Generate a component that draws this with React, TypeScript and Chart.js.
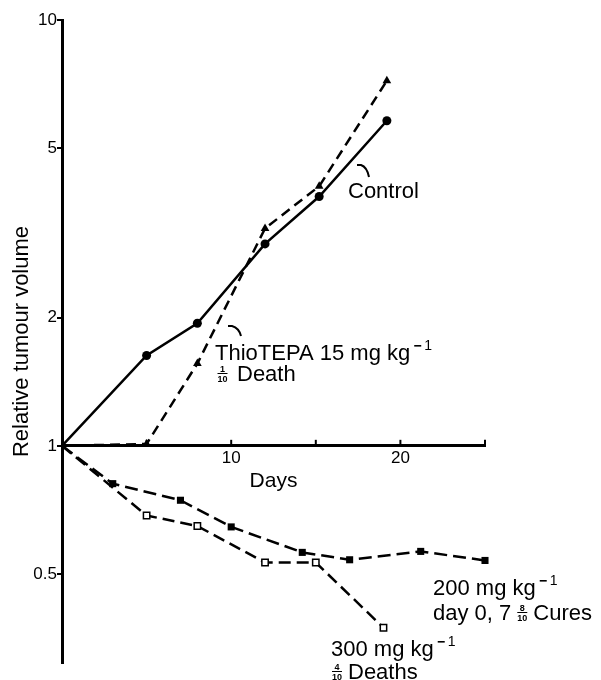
import React, { useEffect, useRef } from 'react';
import { Chart, registerables } from 'chart.js';

Chart.register(...registerables);

// ---- data ----
const controlDays = [0, 5, 8, 12, 15.2, 19.2];
const controlValues = [1, 1.63, 1.94, 2.98, 3.85, 5.8];

const thioDays = [0, 5, 8, 12, 15.2, 19.2];
const thioValues = [1, 1.01, 1.56, 3.24, 4.07, 7.2];

const dose200Days = [0, 3, 7, 10, 14.2, 17, 21.2, 25];
const dose200Values = [1, 0.815, 0.745, 0.645, 0.562, 0.54, 0.565, 0.538];

const dose300Days = [0, 5, 8, 12, 15, 19];
const dose300Values = [1, 0.686, 0.648, 0.532, 0.532, 0.374];

const yTickValues = [0.5, 1, 2, 5, 10];
const xTickLabelValues = [10, 20];
const xTickMarkValues = [5, 10, 15, 20, 25];

const FONT = '"Liberation Sans", Arial, Helvetica, sans-serif';

const toPoints = (xs: number[], ys: number[]) => xs.map((x, i) => ({ x, y: ys[i] }));
const radii = (n: number, r: number) => Array.from({ length: n }, (_, i) => (i === 0 ? 0 : r));

function text(ctx: CanvasRenderingContext2D, s: string, x: number, y: number, size = 22) {
  ctx.font = `${size}px ${FONT}`;
  ctx.textAlign = 'left';
  ctx.textBaseline = 'alphabetic';
  ctx.fillText(s, x, y);
  return ctx.measureText(s).width;
}

function sup(ctx: CanvasRenderingContext2D, x: number, baseline: number) {
  ctx.fillRect(x, baseline - 15, 7, 1.6);
  text(ctx, '1', x + 10, baseline - 10, 14);
}

function frac(ctx: CanvasRenderingContext2D, num: string, den: string, cx: number, baseline: number) {
  ctx.font = `bold 9px ${FONT}`;
  ctx.textAlign = 'center';
  ctx.textBaseline = 'alphabetic';
  ctx.fillText(num, cx, baseline - 9);
  ctx.fillRect(cx - 5, baseline - 8, 10, 1);
  ctx.fillText(den, cx, baseline + 1);
}

function hook(ctx: CanvasRenderingContext2D, x0: number, y0: number, x1: number, y1: number) {
  ctx.beginPath();
  ctx.moveTo(x0 - 3, y0);
  ctx.lineTo(x0 + 1, y0);
  ctx.quadraticCurveTo(x1 - 2, y0 + 2, x1, y1);
  ctx.stroke();
}

const annotationPlugin = {
  id: 'annotations',
  afterDraw(chart: any) {
    const ctx: CanvasRenderingContext2D = chart.ctx;
    ctx.save();
    ctx.fillStyle = '#000';
    ctx.strokeStyle = '#000';
    ctx.lineWidth = 2;

    // x-axis tick marks (pointing up from the axis at y = 1)
    const xs = chart.scales.x;
    const ys = chart.scales.y;
    const y0 = ys.getPixelForValue(1);
    xTickMarkValues.forEach((v) => {
      const px = xs.getPixelForValue(v);
      ctx.beginPath();
      ctx.moveTo(px, y0);
      ctx.lineTo(px, y0 - 6);
      ctx.stroke();
    });

    // Control
    text(ctx, 'Control', 348, 198);
    hook(ctx, 360, 165, 369, 177);

    // ThioTEPA
    let w = text(ctx, 'ThioTEPA 15 mg kg', 215, 360);
    sup(ctx, 215 + w + 4, 360);
    frac(ctx, '1', '10', 222.5, 381);
    text(ctx, 'Death', 237, 381);
    hook(ctx, 231, 326, 241, 336);

    // 200 mg
    w = text(ctx, '200 mg kg', 433, 595);
    sup(ctx, 433 + w + 4, 595);
    w = text(ctx, 'day 0, 7', 433, 620);
    frac(ctx, '8', '10', 433 + w + 11, 620);
    text(ctx, 'Cures', 433 + w + 22, 620);

    // 300 mg
    w = text(ctx, '300 mg kg', 331, 656);
    sup(ctx, 331 + w + 4, 656);
    frac(ctx, '4', '10', 337, 679);
    text(ctx, 'Deaths', 348, 679);

    ctx.restore();
  },
};

export default function App() {
  const ref = useRef<HTMLCanvasElement | null>(null);

  useEffect(() => {
    if (!ref.current) return;
    const chart = new Chart(ref.current, {
      type: 'line',
      data: {
        datasets: [
          {
            label: 'Control',
            data: toPoints(controlDays, controlValues),
            borderColor: '#000',
            borderWidth: 2.5,
            pointStyle: 'circle',
            pointRadius: radii(controlDays.length, 4.5),
            pointBackgroundColor: '#000',
            pointBorderColor: '#000',
            pointBorderWidth: 0,
            fill: false,
            tension: 0,
            clip: false,
          },
          {
            label: 'ThioTEPA 15 mg/kg',
            data: toPoints(thioDays, thioValues),
            borderColor: '#000',
            borderWidth: 2.5,
            borderDash: [10, 6],
            pointStyle: 'triangle',
            pointRadius: radii(thioDays.length, 5),
            pointBackgroundColor: '#000',
            pointBorderColor: '#000',
            pointBorderWidth: 0,
            fill: false,
            tension: 0,
            clip: false,
          },
          {
            label: '200 mg/kg',
            data: toPoints(dose200Days, dose200Values),
            borderColor: '#000',
            borderWidth: 2.5,
            borderDash: [13, 6],
            pointStyle: 'rect',
            pointRadius: radii(dose200Days.length, 5),
            pointBackgroundColor: '#000',
            pointBorderColor: '#000',
            pointBorderWidth: 0,
            fill: false,
            tension: 0,
            clip: false,
          },
          {
            label: '300 mg/kg',
            data: toPoints(dose300Days, dose300Values),
            borderColor: '#000',
            borderWidth: 2.5,
            borderDash: [12, 6],
            pointStyle: 'rect',
            pointRadius: radii(dose300Days.length, 4.5),
            pointBackgroundColor: '#fff',
            pointBorderColor: '#000',
            pointBorderWidth: 1.5,
            fill: false,
            tension: 0,
            clip: false,
          },
        ],
      },
      options: {
        animation: false,
        responsive: false,
        devicePixelRatio: 1,
        layout: { padding: { top: 20, right: 116, bottom: 47, left: 0 } },
        plugins: { legend: { display: false }, tooltip: { enabled: false } },
        scales: {
          x: {
            type: 'linear',
            min: 0,
            max: 25,
            position: { y: 1 } as any,
            afterBuildTicks: (s: any) => {
              s.ticks = xTickLabelValues.map((v) => ({ value: v }));
            },
            ticks: {
              color: '#000',
              font: { family: FONT, size: 17 },
              padding: 2,
              maxRotation: 0,
              autoSkip: false,
            },
            grid: { display: true, drawOnChartArea: false, drawTicks: false, color: '#000' },
            border: { display: true, color: '#000', width: 3 },
            title: {
              display: true,
              text: 'Days',
              color: '#000',
              font: { family: FONT, size: 21 },
              padding: 0,
            },
            afterFit: (s: any) => {
              s.height = 47.6;
            },
          },
          y: {
            type: 'logarithmic',
            min: 0.309,
            max: 10,
            bounds: 'data',
            position: 'left',
            afterBuildTicks: (s: any) => {
              s.ticks = yTickValues.map((v) => ({ value: v }));
            },
            ticks: {
              color: '#000',
              font: { family: FONT, size: 17 },
              padding: 0,
              autoSkip: false,
              callback: (v: any) => String(v),
            },
            grid: { display: true, drawOnChartArea: false, drawTicks: true, tickLength: 5, color: '#000', lineWidth: 2 },
            border: { display: true, color: '#000', width: 3 },
            title: {
              display: true,
              text: 'Relative tumour volume',
              color: '#000',
              font: { family: FONT, size: 22 },
              padding: { top: 9, bottom: 0 },
            },
            afterFit: (s: any) => {
              s.width = 62;
            },
          },
        },
      } as any,
      plugins: [annotationPlugin],
    });
    return () => chart.destroy();
  }, []);

  return (
    <div style={{ position: 'absolute', left: 0, top: 0, width: 601, height: 680, overflow: 'hidden', background: '#fff' }}>
      <canvas ref={ref} width={601} height={710} style={{ display: 'block' }} />
    </div>
  );
}
